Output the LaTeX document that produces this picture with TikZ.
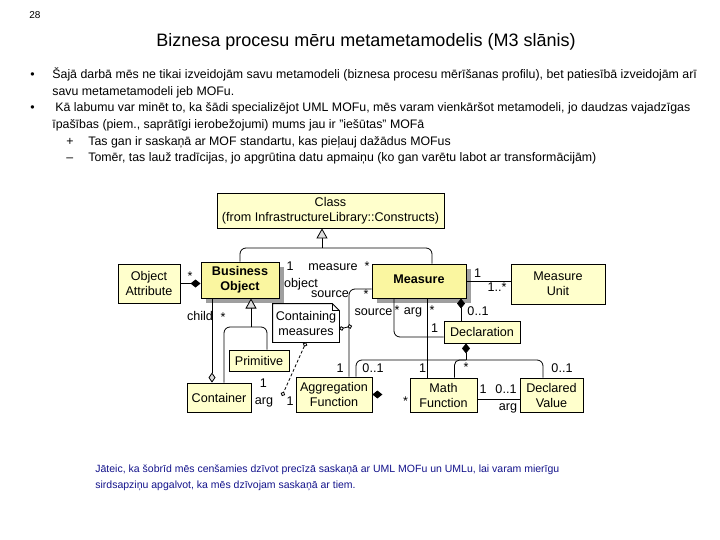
\documentclass[tikz,border=0pt]{standalone}
\usepackage{fontspec}
\setmainfont{Liberation Sans}
\usetikzlibrary{arrows.meta,shadows}

\definecolor{boxfill}{RGB}{255,255,204}
\definecolor{keyfill}{RGB}{250,246,160}
\definecolor{remark}{RGB}{20,20,140}

\newcommand{\diagfont}{\fontsize{12.6}{15}\selectfont}
\newcommand{\bodyfont}{\fontsize{12.35}{16.7}\selectfont}

\tikzset{
  box/.style={draw, fill=boxfill, line width=0.8pt, inner sep=0pt, align=center, font=\diagfont},
  keybox/.style={box, fill=keyfill, line width=1pt, font=\diagfont\bfseries,
    general shadow={fill=gray!75, shadow xshift=5pt, shadow yshift=-5pt}},
  lbl/.style={inner sep=0pt, anchor=base, font=\diagfont},
  txt/.style={inner sep=0pt, anchor=base west, font=\bodyfont},
  gen/.style={-{Triangle[open, fill=gray!25, length=10pt, width=11pt]}},
  comp/.style={{Diamond[fill=black, length=10pt, width=8pt]}-},
  shared/.style={{Diamond[open, fill=gray!30, length=10pt, width=7pt]}-},
  att/.style={{Circle[open, fill=white, length=4.5pt]}-{Circle[open, fill=white, length=4.5pt]}},
}

\begin{document}
\begin{tikzpicture}[x=1pt, y=-1pt, line width=0.8pt]
  \fill[white] (0,0) rectangle (720,540);
  \useasboundingbox (0,0) rectangle (720,540);

  % Slide header
  \node[inner sep=0pt, anchor=base west, font=\fontsize{10}{12}\selectfont] (pnum) at (29,19) {28};
  \node[inner sep=0pt, anchor=base, font=\fontsize{18}{22}\selectfont] (title) at (366,47)
    {Biznesa procesu mēru metametamodelis (M3 slānis)};

  % Bullet text
  \node[txt] (dot1) at (30,78.5) {•};
  \node[txt] (b1) at (52,78.5) {Šajā darbā mēs ne tikai izveidojām savu metamodeli (biznesa procesu mērīšanas profilu), bet patiesībā izveidojām arī};
  \node[txt] (b2) at (52,95.2) {savu metametamodeli jeb MOFu.};
  \node[txt] (dot2) at (30,111.9) {•};
  \node[txt] (b3) at (55,111.9) {Kā labumu var minēt to, ka šādi specializējot UML MOFu, mēs varam vienkāršot metamodeli, jo daudzas vajadzīgas};
  \node[txt] (b4) at (52,128.6) {īpašības (piem., saprātīgi ierobežojumi) mums jau ir "iešūtas" MOFā};
  \node[txt] (plus) at (66,145.3) {+};
  \node[txt] (b5) at (88,145.3) {Tas gan ir saskaņā ar MOF standartu, kas pieļauj dažādus MOFus};
  \node[txt] (minus) at (66,162) {–};
  \node[txt] (b6) at (88,162) {Tomēr, tas lauž tradīcijas, jo apgrūtina datu apmaiņu (ko gan varētu labot ar transformācijām)};

  % Classes
  \node[box, minimum width=227, minimum height=35] (cls) at (330.5,210.5)
    {Class\\(from InfrastructureLibrary::Constructs)};
  \node[keybox, minimum width=78, minimum height=36] (bo) at (240,280) {Business\\Object};
  \node[box, minimum width=62, minimum height=39] (oa) at (149,283.5) {Object\\Attribute};
  \node[keybox, minimum width=94, minimum height=34] (ms) at (419,281) {\raisebox{4pt}{Measure}};
  \node[box, minimum width=94, minimum height=40] (mu) at (558,284) {Measure\\Unit};
  \node[box, minimum width=60, minimum height=21] (prim) at (259,360.5) {Primitive};
  \node[box, minimum width=64, minimum height=29] (cont) at (219,397.5) {Container};
  \node[box, minimum width=76, minimum height=35] (agg) at (334,394.5) {Aggregation\\Function};
  \node[box, minimum width=67, minimum height=34] (mf) at (443.5,395) {Math\\Function};
  \node[box, minimum width=63, minimum height=34] (dv) at (551.5,395) {Declared\\Value};
  \node[box, minimum width=76, minimum height=22] (decl) at (482,332) {Declaration};

  % Note
  \node[align=center, inner sep=0pt, font=\diagfont, minimum width=66, minimum height=38] (note) at (306,323) {};
  \draw[fill=white] (note.north west) -- ([xshift=-7]note.north east) -- ([yshift=-7]note.north east)
    -- (note.south east) -- (note.south west) -- cycle;
  \draw ([xshift=-7]note.north east) -- ++(0,7) -- ([yshift=-7]note.north east);
  \node[align=center, inner sep=0pt, font=\diagfont] (notetext) at (note.center) {Containing\\measures};

  % Generalizations
  \coordinate (gtop) at (322,248);
  \draw[gen] (gtop) -- (gtop |- cls.south);
  \draw[rounded corners=6] (bo.north) |- (gtop) -| ([xshift=13]ms.north);
  \coordinate (gbo) at (251,327);
  \draw[gen] (gbo) -- (gbo |- bo.south);
  \draw[rounded corners=6] ([xshift=5]cont.north) |- (gbo) -| ([xshift=8]prim.north);

  % Associations
  \coordinate (ch) at ([xshift=-7]cont.north);
  \draw[shared] (ch) -- (ch |- bo.south);
  \draw[comp] (bo.west |- oa.east) -- (oa.east);
  \draw (ms.east) -- (ms.east -| mu.west);
  \draw[rounded corners=6] ([yshift=-8]ms.west) -| ([xshift=15]agg.north);
  \coordinate (srcpt) at (352,326);
  \draw[att] ([yshift=-6]note.east) -- (srcpt);
  \coordinate (argpt) at (282,396);
  \draw[att, dash pattern=on 3pt off 2pt] (note.south) -- (argpt);
  \coordinate (mdec) at ([xshift=42]ms.south);
  \draw[comp] (mdec) -- (mdec |- decl.north);
  \coordinate (mmf) at ([xshift=8]ms.south);
  \draw (mmf) -- (mmf |- mf.north);
  \draw[rounded corners=6] ([xshift=-25]ms.south) |- ([yshift=-5]decl.west);
  \coordinate (dj) at (466,360);
  \draw[comp] ([xshift=-16]decl.south) -- (dj);
  \draw[rounded corners=6] ([xshift=22]agg.north) |- (dj) -| ([xshift=-8.5]dv.north);
  \draw[rounded corners=5] ([xshift=11]mf.north) |- (dj);
  \coordinate (mfr) at ([yshift=-4]mf.east);
  \draw (mfr) -- (mfr -| dv.west);
  \fill (agg.east) -- ++(5,-4) -- ++(5,4) -- ++(-5,4) -- cycle;

  % Role names and multiplicities
  \node[lbl] (oastar) at (190,280) {*};
  \node[lbl] (boone) at (290,270) {1};
  \node[lbl] (bomeasure) at (333,270) {measure};
  \node[lbl] (bostar) at (367,270.5) {*};
  \node[lbl] (boobject) at (301,287) {object};
  \node[lbl] (srcname) at (330,297) {source};
  \node[lbl] (srcstar) at (366,298) {*};
  \node[lbl] (srcone) at (340,372) {1};
  \node[lbl] (srcname2) at (373.5,315) {source};
  \node[lbl] (srcstar2) at (397,314.5) {*};
  \node[lbl] (argname) at (413,314) {arg};
  \node[lbl] (mfstar) at (432,314.5) {*};
  \node[lbl] (deczero) at (478,315) {0..1};
  \node[lbl] (decone) at (434.5,332) {1};
  \node[lbl] (muone) at (477.5,277) {1};
  \node[lbl] (mumany) at (497,291) {1..*};
  \node[lbl] (chname) at (200,320) {child};
  \node[lbl] (chstar) at (223,321) {*};
  \node[lbl] (aggzero) at (373,372) {0..1};
  \node[lbl] (mfone) at (422.5,372) {1};
  \node[lbl] (mfstar2) at (466,371) {*};
  \node[lbl] (dvzero) at (562,372) {0..1};
  \node[lbl] (contone) at (263.5,387) {1};
  \node[lbl] (contarg) at (264,404) {arg};
  \node[lbl] (aggone) at (290,405) {1};
  \node[lbl] (aggstar) at (405.5,405) {*};
  \node[lbl] (dvone) at (483,393) {1};
  \node[lbl] (dvzero2) at (506,393) {0..1};
  \node[lbl] (dvarg) at (508,410) {arg};

  % Closing remark
  \node[inner sep=0pt, anchor=base west, align=left, text=remark, font=\fontsize{10.5}{16}\selectfont] (remark) at (95,488)
    {Jāteic, ka šobrīd mēs cenšamies dzīvot precīzā saskaņā ar UML MOFu un UMLu, lai varam mierīgu\\
     sirdsapziņu apgalvot, ka mēs dzīvojam saskaņā ar tiem.};
\end{tikzpicture}
\end{document}
